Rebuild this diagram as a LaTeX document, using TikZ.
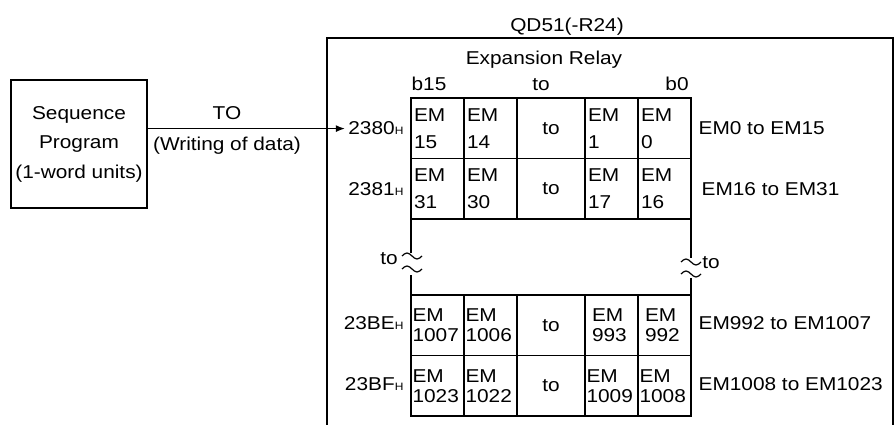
\documentclass[tikz,border=0pt]{standalone}
\usepackage{fontspec}
\setmainfont{Liberation Sans}[FakeStretch=1.12]
\usetikzlibrary{positioning,arrows.meta}
\newcommand{\addr}[1]{#1{\fontsize{10.7}{12}\selectfont H}}

\begin{document}
\begin{tikzpicture}[x=1pt,y=-1pt,line width=1.2pt,>={Latex[length=9pt,width=7pt]},
    every node/.style={inner sep=3pt,font=\fontsize{18.6}{22}\selectfont},
    lbl/.style={anchor=base},
    adr/.style={anchor=base east},
    rng/.style={anchor=base west},
    cell/.style={draw,outer sep=0pt,inner xsep=3pt,inner ysep=0pt,align=left,text width=47pt,minimum height=60.5pt,font=\fontsize{18.6}{27}\selectfont},
    midcell/.style={cell,text width=62pt,align=center},
    lcell/.style={cell,inner xsep=1.5pt,text width=50pt,font=\fontsize{18.6}{20}\selectfont},
    lmidcell/.style={midcell,font=\fontsize{18.6}{20}\selectfont}]
  \useasboundingbox (0,0) rectangle (896,425);
  % module frame, open at the bottom
  \draw (327,425) -- (327,38) -- (893,38) -- (893,425);
  \node[lbl] (qd) at (567,32) {QD51(-R24)};
  \node[lbl] (rel) at (544,65) {Expansion Relay};
  \node[lbl] (b15) at (429,91) {b15};
  \node[lbl] (bto) at (541,91) {to};
  \node[lbl] (b0) at (677,91) {b0};
  % sequence program
  \node[draw,outer sep=0pt,minimum width=136pt,minimum height=128pt,align=center,font=\fontsize{18.6}{29.5}\selectfont] (seq) at (79,144) {Sequence\\Program\\(1-word units)};
  \node[lbl] (tolbl) at (227,120) {TO};
  \node[lbl] (wr) at (227,150) {(Writing of data)};
  % addresses
  \node[adr] (a1) at (407,135) {\addr{2380}};
  \node[adr] (a2) at (407,195) {\addr{2381}};
  \node[adr] (a3) at (407,329) {\addr{23BE}};
  \node[adr] (a4) at (407,390) {\addr{23BF}};
  \draw[->] (seq.east |- a1) -- (a1.west);
  % upper rows
  \node[cell,anchor=north west] (r1c1) at (411,98) {EM\\15};
  \node[cell,right=0pt of r1c1] (r1c2) {EM\\14};
  \node[midcell,right=0pt of r1c2] (r1c3) {to};
  \node[cell,right=0pt of r1c3] (r1c4) {EM\\1};
  \node[cell,right=0pt of r1c4] (r1c5) {EM\\0};
  \node[cell,below=0pt of r1c1] (r2c1) {EM\\31};
  \node[cell,right=0pt of r2c1] (r2c2) {EM\\30};
  \node[midcell,right=0pt of r2c2] (r2c3) {to};
  \node[cell,right=0pt of r2c3] (r2c4) {EM\\17};
  \node[cell,right=0pt of r2c4] (r2c5) {EM\\16};
  % lower rows
  \node[lcell,anchor=north west] (r3c1) at (411,295) {EM\\1007};
  \node[lcell,right=0pt of r3c1] (r3c2) {EM\\1006};
  \node[lmidcell,right=0pt of r3c2] (r3c3) {to};
  \node[lcell,inner xsep=7pt,text width=39pt,right=0pt of r3c3] (r3c4) {EM\\993};
  \node[lcell,inner xsep=7pt,text width=39pt,right=0pt of r3c4] (r3c5) {EM\\992};
  \node[lcell,below=0pt of r3c1] (r4c1) {EM\\1023};
  \node[lcell,right=0pt of r4c1] (r4c2) {EM\\1022};
  \node[lmidcell,right=0pt of r4c2] (r4c3) {to};
  \node[lcell,right=0pt of r4c3] (r4c4) {EM\\1009};
  \node[lcell,right=0pt of r4c4] (r4c5) {EM\\1008};
  % device ranges
  \node[rng] (g1) at (695,135) {EM0 to EM15};
  \node[rng] (g2) at (698,195) {EM16 to EM31};
  \node[rng] (g3) at (695,329) {EM992 to EM1007};
  \node[rng] (g4) at (695,390) {EM1008 to EM1023};
  % broken sides
  \coordinate (lb1) at (411,253);
  \coordinate (lb2) at (411,275);
  \coordinate (rb1) at (691,258);
  \coordinate (rb2) at (691,278);
  \draw (r2c1.south west) -- (lb1);
  \draw (lb2) -- (r3c1.north west);
  \draw (r2c5.south east) -- (rb1);
  \draw (rb2) -- (r3c5.north east);
  \draw (402,256) sin (407,253) cos (412,256) sin (417,259) cos (422,256);
  \draw (402,269) sin (407,266) cos (412,269) sin (417,272) cos (422,269);
  \draw (681,262) sin (686,259) cos (691,262) sin (696,265) cos (701,262);
  \draw (681,274) sin (686,271) cos (691,274) sin (696,277) cos (701,274);
  \node[lbl] (lto) at (389,264) {to};
  \node[lbl] (rto) at (711,268) {to};
\end{tikzpicture}
\end{document}
